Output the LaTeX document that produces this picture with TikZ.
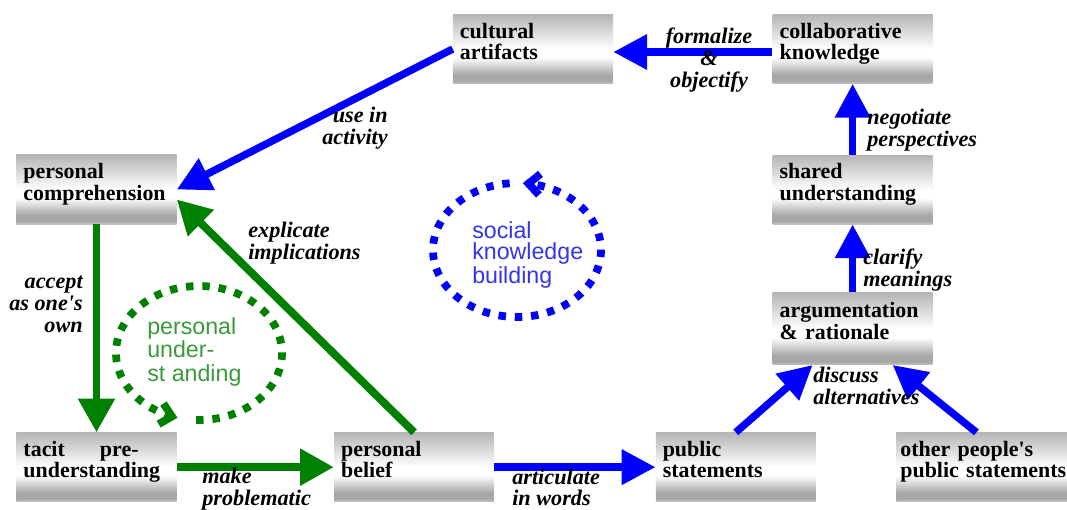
\documentclass[tikz,border=0pt]{standalone}
\usepackage{fontspec}
\setmainfont{Liberation Serif}
\setsansfont{Liberation Sans}
\usepackage{xcolor}
\usetikzlibrary{arrows.meta,positioning}
\definecolor{kbblue}{HTML}{0000FF}
\definecolor{kbgreen}{HTML}{008000}
\definecolor{softblue}{HTML}{3535E8}
\definecolor{softgreen}{HTML}{3A9A3A}
\pgfdeclareverticalshading{boxfade}{100bp}{color(0bp)=(gray!45); color(25bp)=(gray!45);
  color(27bp)=(gray!68); color(31bp)=(gray!70); color(34bp)=(gray!55); color(44bp)=(white);
  color(50bp)=(white); color(75bp)=(gray!58); color(100bp)=(gray!58)}

\begin{document}
\begin{tikzpicture}[
  x=0.025cm, y=-0.025cm,
  stage/.style={shading=boxfade, inner xsep=0.175cm, inner ysep=0pt, align=left,
                text width=3.65cm, minimum width=4cm, minimum height=1.725cm,
                text height=10.7pt, text depth=26.3pt,
                font=\fontsize{15.6}{15.3}\selectfont\bfseries},
  wide/.style={text width=4.15cm, inner xsep=0.1cm},
  transition/.style={inner sep=0pt, font=\fontsize{15.8}{15.4}\selectfont\bfseries\itshape},
  cycletext/.style={inner sep=0pt, align=left, anchor=base west,
                    font=\sffamily\fontsize{16.5}{15.3}\selectfont},
  flowblue/.style={line width=5.3pt, draw=kbblue, -{Triangle[length=24pt,width=24pt]}},
  flowgreen/.style={line width=5.6pt, draw=kbgreen, -{Triangle[length=24pt,width=25pt]}},
  loopline/.style={line width=5.5pt, dash pattern=on 5.3pt off 6.3pt,
                   -{Straight Barb[length=8pt,width=15pt]}}
]
  \useasboundingbox (0,0) rectangle (1067,509);

  \node[stage] (comprehension) at (96.5,189.5) {personal\\comprehension};
  \node[stage, below=5.2cm of comprehension] (tacit) {tacit\hspace{1.6em}pre-\\understanding};
  \node[stage, right=3.925cm of tacit] (belief) {personal\\belief};
  \node[stage, right=4.025cm of belief] (public) {public\\statements};
  \node[stage, wide, right=2cm of public] (others) {other people\textquotesingle s\\public statements};
  \node[stage] (artifacts) at (533,49) {cultural\\artifacts};
  \node[stage, right=3.975cm of artifacts] (collab) {collaborative\\knowledge};
  \node[stage, below=1.775cm of collab] (shared) {shared\\understanding};
  \node[stage, below=1.7cm of shared, minimum height=1.8cm] (argument) {argumentation\\\& rationale};

  \draw[flowblue] ([yshift=-0.075cm]collab.west) -- ([yshift=-0.075cm]artifacts.east);
  \draw[flowblue] (artifacts.west) -- (comprehension.east);
  \draw[flowgreen] (comprehension) -- (tacit);
  \draw[flowgreen] (tacit) -- (belief);
  \draw[flowgreen] (belief.north) -- ([yshift=-0.25cm]comprehension.east);
  \draw[flowblue] (belief) -- (public);
  \draw[flowblue] (public.north) -- ([xshift=-1cm]argument.south);
  \draw[flowblue] ([xshift=-0.175cm]others.north) -- ([xshift=1cm]argument.south);
  \draw[flowblue] (argument) -- (shared);
  \draw[flowblue] (shared) -- (collab);

  \node[transition, align=center, anchor=base] (formalize) at (709,87) {formalize\\\&\\objectify};
  \node[transition, align=right, anchor=base east] (usein) at (388,144) {use in\\activity};
  \node[transition, align=right, anchor=base east] (accept) at (83,332) {accept\\as one\textquotesingle s\\own};
  \node[transition, align=left, anchor=base west] (explicate) at (248,259) {explicate\\implications};
  \node[transition, align=left, anchor=base west] (problematic) at (202,505) {make\\problematic};
  \node[transition, align=left, anchor=base west, font=\fontsize{15.8}{14.4}\selectfont\bfseries\itshape]
    (articulate) at (512,505) {articulate\\in words};
  \node[transition, align=left, anchor=base west] (negotiate) at (867,146) {negotiate\\perspectives};
  \node[transition, align=left, anchor=base west] (clarify) at (863,286) {clarify\\meanings};
  \node[transition, align=left, anchor=base west] (discuss) at (813,404) {discuss\\alternatives};

  \draw[loopline, kbblue] plot[domain=265:-86, samples=90, smooth, variable=\t]
    ({517+84*cos(\t)}, {250+67*sin(\t)});
  \node[cycletext, text=softblue] (social) at (472,283) {social\\knowledge\\building};
  \draw[loopline, kbgreen] plot[domain=92:-255, samples=90, smooth, variable=\t]
    ({199+83*cos(\t)}, {353+67*sin(\t)});
  \node[cycletext, text=softgreen, font=\sffamily\fontsize{16.5}{16.7}\selectfont] (personal)
    at (147,381) {personal\\under-\\st anding};
\end{tikzpicture}
\end{document}
